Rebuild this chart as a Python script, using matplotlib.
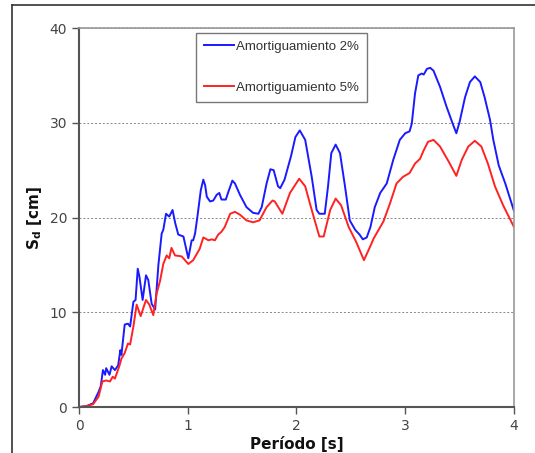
import matplotlib
matplotlib.use("Agg")
import matplotlib.pyplot as plt
from matplotlib.lines import Line2D

t_2 = [0.00, 0.07, 0.13, 0.18, 0.20, 0.22, 0.24, 0.25, 0.28, 0.30, 0.33, 0.36, 0.38, 0.39,
       0.42, 0.45, 0.47, 0.50, 0.52, 0.54, 0.555, 0.585, 0.616, 0.637, 0.668, 0.70, 0.73,
       0.76, 0.775, 0.80, 0.83, 0.86, 0.885, 0.913, 0.96, 1.005, 1.036, 1.05, 1.067, 1.09,
       1.12, 1.143, 1.16, 1.175, 1.205, 1.235, 1.266, 1.29, 1.31, 1.35, 1.373, 1.41, 1.434,
       1.48, 1.54, 1.60, 1.65, 1.68, 1.725, 1.76, 1.79, 1.83, 1.85, 1.89, 1.95, 1.99, 2.03,
       2.08, 2.14, 2.185, 2.21, 2.26, 2.29, 2.32, 2.36, 2.40, 2.446, 2.49, 2.54, 2.58, 2.61,
       2.646, 2.68, 2.72, 2.77, 2.83, 2.89, 2.95, 3.00, 3.04, 3.06, 3.09, 3.12, 3.15, 3.17,
       3.20, 3.23, 3.26, 3.32, 3.38, 3.44, 3.47, 3.50, 3.55, 3.595, 3.64, 3.69, 3.73, 3.78,
       3.81, 3.86, 3.92, 4.00]
sd_2 = [0.0, 0.1, 0.4, 1.6, 2.2, 3.9, 3.4, 4.1, 3.4, 4.3, 3.9, 4.4, 6.0, 5.5,
        8.7, 8.8, 8.5, 11.1, 11.3, 14.6, 13.8, 11.3, 13.9, 13.4, 10.9, 10.3, 15.0,
        18.3, 18.7, 20.4, 20.1, 20.8, 19.4, 18.2, 18.0, 15.7, 17.6, 17.6, 18.3, 20.2,
        22.9, 24.0, 23.4, 22.2, 21.7, 21.8, 22.4, 22.6, 21.9, 21.9, 22.7, 23.9, 23.6,
        22.4, 21.1, 20.5, 20.4, 21.1, 23.6, 25.1, 25.0, 23.3, 23.1, 24.0, 26.5, 28.5, 29.2,
        28.2, 24.3, 20.8, 20.4, 20.4, 23.3, 26.8, 27.7, 26.8, 23.3, 19.7, 18.7, 18.2, 17.7,
        17.9, 19.0, 21.1, 22.6, 23.6, 26.1, 28.2, 28.9, 29.1, 29.9, 33.1, 35.0, 35.2, 35.1,
        35.7, 35.8, 35.5, 33.8, 31.7, 29.8, 28.9, 30.1, 32.7, 34.3, 34.9, 34.3, 32.7, 30.3,
        28.2, 25.5, 23.6, 20.7]

t_5 = [0.00, 0.07, 0.13, 0.18, 0.215, 0.25, 0.285, 0.31, 0.33, 0.37, 0.39, 0.42, 0.45, 0.47,
       0.50, 0.53, 0.567, 0.616, 0.647, 0.683, 0.714, 0.745, 0.775, 0.806, 0.83, 0.85, 0.883,
       0.944, 1.005, 1.05, 1.11, 1.143, 1.16, 1.19, 1.22, 1.25, 1.28, 1.31, 1.34, 1.39, 1.434,
       1.48, 1.54, 1.60, 1.66, 1.725, 1.78, 1.80, 1.87, 1.94, 2.025, 2.08, 2.14, 2.21, 2.25,
       2.31, 2.36, 2.41, 2.48, 2.55, 2.62, 2.676, 2.71, 2.80, 2.86, 2.92, 2.98, 3.04, 3.09,
       3.136, 3.17, 3.21, 3.26, 3.32, 3.40, 3.47, 3.52, 3.58, 3.64, 3.70, 3.76, 3.825, 3.90,
       4.00]
sd_5 = [0.0, 0.1, 0.3, 1.1, 2.7, 2.8, 2.7, 3.2, 3.0, 4.3, 5.1, 5.7, 6.7, 6.6,
        8.5, 10.8, 9.6, 11.3, 10.8, 9.7, 12.0, 13.3, 15.1, 16.0, 15.7, 16.8, 16.0,
        15.9, 15.1, 15.5, 16.7, 17.9, 17.8, 17.6, 17.7, 17.6, 18.2, 18.5, 19.0, 20.4, 20.6,
        20.3, 19.7, 19.5, 19.7, 21.1, 21.8, 21.7, 20.4, 22.6, 24.1, 23.3, 20.8, 18.0, 18.0,
        20.8, 22.0, 21.3, 19.0, 17.4, 15.5, 16.9, 17.8, 19.6, 21.5, 23.6, 24.3, 24.7, 25.7,
        26.2, 27.1, 28.0, 28.2, 27.5, 25.9, 24.4, 26.1, 27.5, 28.1, 27.5, 25.7, 23.3, 21.3,
        19.0]

labels = ['Amortiguamiento 2%', 'Amortiguamiento 5%']
x_ticks = [0, 1, 2, 3, 4]
y_ticks = [0, 10, 20, 30, 40]

plt.rcParams['font.family'] = ['DejaVu Sans']

fig = plt.figure(figsize=(5.35, 4.53), dpi=100)
ax = fig.add_axes([0.1477, 0.1015, 0.813, 0.8365])

ax.plot(t_2, sd_2, color='#1a1aff', lw=1.4, label=labels[0])
ax.plot(t_5, sd_5, color='#ff2222', lw=1.4, label=labels[1])

ax.set_xlim(0, 4)
ax.set_ylim(0, 40)
ax.set_xticks(x_ticks)
ax.set_yticks(y_ticks)
ax.tick_params(direction='out', length=5, width=1, color='#555555',
               labelcolor='#444444', labelsize=10)
ax.yaxis.grid(True, linestyle=(0, (2, 2)), color='#888888', lw=0.7)
ax.set_axisbelow(True)

for side in ['left', 'bottom']:
    ax.spines[side].set_color('#555555')
    ax.spines[side].set_linewidth(1.5)
for side in ['top', 'right']:
    ax.spines[side].set_color('#999999')
    ax.spines[side].set_linewidth(1.2)

ax.set_xlabel('Período [s]', fontsize=11, fontweight='bold', color='#111111', labelpad=2)
ax.set_ylabel('S$_\\mathbf{d}$ [cm]', fontsize=11, fontweight='bold', color='#111111', labelpad=4)

leg = ax.legend(loc='upper left', bbox_to_anchor=(0.269, 0.988),
                prop={'family': 'Liberation Sans', 'size': 9.5},
                frameon=True, fancybox=False, handlelength=2.3, handletextpad=0.15,
                labelspacing=2.2, borderpad=0.6, borderaxespad=0)
leg.get_frame().set_edgecolor('#555555')
leg.get_frame().set_linewidth(1.0)
for txt in leg.get_texts():
    txt.set_color('#333333')

# outer frame (left and top edges of the original box)
fig.add_artist(Line2D([12 / 535, 12 / 535], [0, 1 - 5 / 453], color='#333333', lw=1.2))
fig.add_artist(Line2D([12 / 535, 1], [1 - 5 / 453, 1 - 5 / 453], color='#333333', lw=1.2))

fig.savefig('out.png', dpi=100)
